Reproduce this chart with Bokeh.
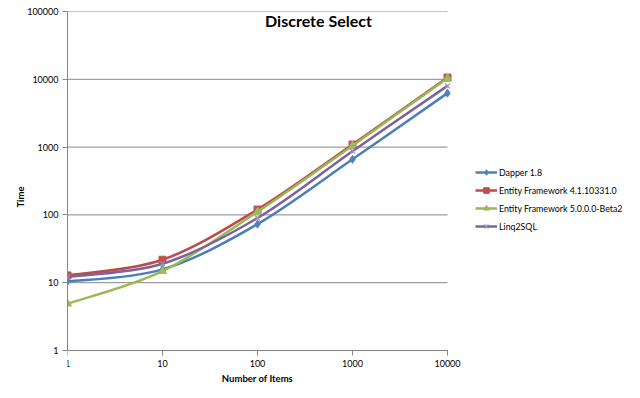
import numpy as np
from bokeh.plotting import figure
from bokeh.models import FixedTicker, PrintfTickFormatter, Legend, LegendItem, Label
from bokeh.embed import file_html
from bokeh.resources import INLINE

# ---- data ----
items = [1, 10, 100, 1000, 10000]
dapper = [10.4, 15.7, 73, 660, 6250]
ef4 = [12.8, 21.8, 120, 1090, 10600]
ef5 = [4.9, 14.8, 111, 1050, 10400]
linq = [12.2, 19.0, 90, 870, 8000]
series_names = ["Dapper 1.8", "Entity Framework 4.1.10331.0",
                "Entity Framework 5.0.0.0-Beta2", "Linq2SQL"]
x_ticks = [1, 10, 100, 1000, 10000]
y_ticks = [1, 10, 100, 1000, 10000, 100000]

FONT = "Lato"
W, H = 624, 382
LEFT, RIGHT, TOP, BOTTOM = 67, 0, 11, 0
X_AXIS_PX = 350            # pixel row of y = 1 (the x axis)
PX_PER_DECADE_X = 95.0
PX_PER_DECADE_Y = (X_AXIS_PX - TOP) / 5.0
x_max = 10 ** ((W - RIGHT - LEFT) / PX_PER_DECADE_X)
y_min = 10 ** (-(H - BOTTOM - X_AXIS_PX) / PX_PER_DECADE_Y)

p = figure(width=W, height=H, x_axis_type="log", y_axis_type="log",
           x_range=(1, x_max), y_range=(y_min, 100000),
           output_backend="svg", toolbar_location=None,
           min_border_left=LEFT, min_border_right=RIGHT,
           min_border_top=TOP, min_border_bottom=BOTTOM)
p.outline_line_color = None
p.background_fill_color = "white"
p.border_fill_color = "white"

p.xgrid.visible = False
p.ygrid.visible = False
# horizontal gridlines spanning only the data width (1 .. 10000)
p.segment(x0=[x_ticks[0]] * len(y_ticks), x1=[x_ticks[-1]] * len(y_ticks),
          y0=y_ticks, y1=y_ticks, line_color="#868686", line_width=1)

for ax in (p.xaxis[0], p.yaxis[0]):
    ax.axis_line_color = "#868686"
    ax.major_tick_line_color = "#868686"
    ax.major_tick_in = 0
    ax.major_tick_out = 5
    ax.minor_tick_line_color = None
    ax.major_label_text_font = FONT
    ax.major_label_text_font_size = "9px"
    ax.major_label_text_color = "#000000"
    ax.axis_label_text_font = FONT
    ax.axis_label_text_font_size = "9.5px"
    ax.axis_label_text_font_style = "bold"
    ax.axis_label_text_color = "#000000"
    ax.formatter = PrintfTickFormatter(format="%d")

p.xaxis[0].ticker = FixedTicker(ticks=x_ticks)
p.yaxis[0].ticker = FixedTicker(ticks=y_ticks)
p.xaxis[0].bounds = (x_ticks[0], x_ticks[-1])
p.yaxis[0].bounds = (y_ticks[0], y_ticks[-1])
p.xaxis[0].fixed_location = y_ticks[0]
p.xaxis[0].axis_label = "Number of Items"
p.yaxis[0].axis_label = "Time"
p.xaxis[0].major_label_standoff = 4
p.xaxis[0].axis_label_standoff = 3
p.yaxis[0].major_label_standoff = 4
p.yaxis[0].axis_label_standoff = -2

line_colors = ["#4A7EBB", "#BE4B48", "#98B954", "#7D60A0"]
mark_colors = ["#4F81BD", "#C0504D", "#9BBB59", "#8064A2"]
markers = ["diamond", "square", "triangle", "x"]
msizes = [8, 7, 8, 7]
all_series = [dapper, ef4, ef5, linq]


def smooth_controls(xs, ys):
    lx = np.log10(np.asarray(xs, float))
    ly = np.log10(np.asarray(ys, float))
    n = len(lx)
    out = {k: [] for k in ("x0", "y0", "x1", "y1", "cx0", "cy0", "cx1", "cy1")}
    for i in range(n - 1):
        i0 = max(i - 1, 0)
        i3 = min(i + 2, n - 1)
        c1x = lx[i] + (lx[i + 1] - lx[i0]) / 6
        c1y = ly[i] + (ly[i + 1] - ly[i0]) / 6
        c2x = lx[i + 1] - (lx[i3] - lx[i]) / 6
        c2y = ly[i + 1] - (ly[i3] - ly[i]) / 6
        out["x0"].append(xs[i]); out["y0"].append(ys[i])
        out["x1"].append(xs[i + 1]); out["y1"].append(ys[i + 1])
        out["cx0"].append(10 ** c1x); out["cy0"].append(10 ** c1y)
        out["cx1"].append(10 ** c2x); out["cy1"].append(10 ** c2y)
    return out


legend_items = []
for name, ys, lc, mc, mk, ms in zip(series_names, all_series, line_colors,
                                      mark_colors, markers, msizes):
    c = smooth_controls(items, ys)
    b = p.bezier(x0=c["x0"], y0=c["y0"], x1=c["x1"], y1=c["y1"],
                 cx0=c["cx0"], cy0=c["cy0"], cx1=c["cx1"], cy1=c["cy1"],
                 line_color=lc, line_width=2.5)
    if mk == "x":
        s = p.scatter(items, ys, marker=mk, size=ms, line_color="#A08CC0",
                      line_width=1.2)
    else:
        s = p.scatter(items, ys, marker=mk, size=ms, fill_color=mc,
                      line_color=mc, line_width=1)
    legend_items.append(LegendItem(label=name, renderers=[b, s]))

legend = Legend(items=legend_items,
                location=(408, 117 + (H - BOTTOM - X_AXIS_PX)),
                border_line_color=None, background_fill_alpha=0,
                padding=0, margin=0, spacing=4,
                glyph_width=22, glyph_height=14, label_height=14,
                label_standoff=2,
                label_text_font=FONT, label_text_font_size="8.8px",
                label_text_color="#000000")
p.add_layout(legend, "center")

# chart title (overlaid on the plot area like the original)
tx = 10 ** ((318 - LEFT) / PX_PER_DECADE_X)
ty = 10 ** (5 - (20 - TOP) / PX_PER_DECADE_Y)
p.add_layout(Label(x=tx, y=ty, text="Discrete Select", text_align="center",
                   text_baseline="middle", text_font=FONT,
                   text_font_size="16px", text_font_style="bold",
                   text_color="#000000"))

open("out.html", "w").write(file_html(p, INLINE))
